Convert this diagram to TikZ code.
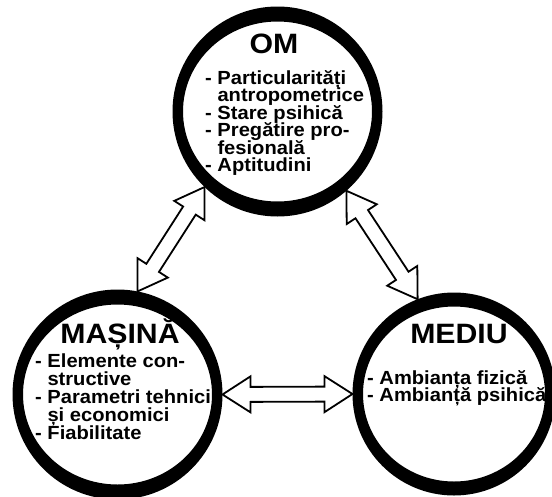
\documentclass[tikz,border=0pt]{standalone}
\usepackage{fontspec}
\setmainfont{Liberation Sans}
\newfontfamily\lab{Liberation Sans}[FakeStretch=1.06]
\newfontfamily\labwide{Liberation Sans}[FakeStretch=1.08]
\usetikzlibrary{calc}
\begin{document}
\begin{tikzpicture}[x=1pt,y=-1pt,
  zone/.style={circle, inner sep=0pt, outer sep=0pt, minimum size=#1},
  title/.style={anchor=base, inner sep=0pt, font=\labwide\bfseries\fontsize{28pt}{28pt}\selectfont},
  item/.style={anchor=base west, inner sep=0pt, font=\lab\bfseries\fontsize{19pt}{18pt}\selectfont},
  % hollow double-headed block arrow between two points
  link/.style={draw=black, fill=white, line width=1.8pt, line join=miter, miter limit=10,
    to path={let \p1=(\tikztostart), \p2=(\tikztotarget),
        \n1={atan2(\y2-\y1,\x2-\x1)} in
      (\p1) -- ($(\p1)+(\n1:28pt)+(\n1+90:18pt)$)
      -- ($(\p1)+(\n1:28pt)+(\n1+90:7.5pt)$)
      -- ($(\p2)+(\n1+180:28pt)+(\n1+90:7.5pt)$)
      -- ($(\p2)+(\n1+180:28pt)+(\n1+90:18pt)$)
      -- (\p2)
      -- ($(\p2)+(\n1+180:28pt)+(\n1-90:18pt)$)
      -- ($(\p2)+(\n1+180:28pt)+(\n1-90:7.5pt)$)
      -- ($(\p1)+(\n1:28pt)+(\n1-90:7.5pt)$)
      -- ($(\p1)+(\n1:28pt)+(\n1-90:18pt)$) -- cycle}}
]
\useasboundingbox (0,0) rectangle (552,496);
\clip (0,0) rectangle (552,496);

% the three domains
\node[zone=210pt] (om)  at (277.5,111.5) {};
\node[zone=210pt] (mas) at (117.5,394.5) {};
\node[zone=203pt] (med) at (454,394) {};

% thick rings, heavier at top and bottom
\fill[even odd rule] (om.center) ellipse [x radius=105pt, y radius=105pt]
                     (om.center) ellipse [x radius=94.5pt, y radius=90pt];
\fill[even odd rule] (mas.center) ellipse [x radius=105pt, y radius=105pt]
                     (mas.center) ellipse [x radius=94.5pt, y radius=90pt];
\fill[even odd rule] (med.center) ellipse [x radius=101.5pt, y radius=101.5pt]
                     (med.center) ellipse [x radius=91pt, y radius=87.5pt];

% relations
\draw[link] (mas.79.3) to (om.226.5);
\draw[link] (om.311.5) to (med.111.2);
\draw[link] (mas.0) to (med.180);

% titles
\node[title] (omt)  at (274,53)  {OM};
\node[title] (mast) at (120,343) {MAȘINĂ};
\node[title] (medt) at (459,343) {MEDIU};

% contents
\foreach \t [count=\i] in {{- Particularități},{\phantom{- }antropometrice},
    {- Stare psihică},{- Pregătire pro-},{\phantom{- }fesională},{- Aptitudini}}
  \node[item, name=omi-\i] at (205,{84+17.5*(\i-1)}) {\t};
\foreach \t [count=\i] in {{- Elemente con-},{\phantom{- }structive},
    {- Parametri tehnici},{\phantom{- }și economici},{- Fiabilitate}}
  \node[item, name=masi-\i] at (35,{367+18*(\i-1)}) {\t};
\foreach \t [count=\i] in {{- Ambianța fizică},{- Ambianță psihică}}
  \node[item, name=medi-\i] at (367,{384+17.5*(\i-1)}) {\t};
\end{tikzpicture}
\end{document}
